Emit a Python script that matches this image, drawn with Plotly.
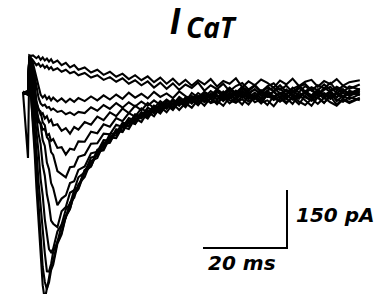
import plotly.graph_objects as go

# Time axis of the sweeps (ms, step onset at 0)
time_ms = [-1.2, 0.0, 0.3, 0.8, 1.2, 1.6, 2.0, 2.5, 3.0, 3.5,
           4.0, 4.5, 5.0, 5.5, 6.0, 7.0, 8.0, 9.0, 10.0, 11.0,
           12.0, 13.5, 15.0, 16.5, 18.0, 19.5, 21.0, 22.5, 24.0, 25.5,
           27.0, 28.5, 30.0, 31.5, 33.0, 34.5, 36.0, 37.5, 39.0, 40.5,
           42.0, 43.5, 45.0, 46.5, 48.0, 49.5, 51.0, 52.5, 54.0, 55.5,
           57.0, 58.5, 60.0, 61.5, 63.0, 64.5, 66.0, 67.5, 69.0, 70.5,
           72.0, 73.5, 75.0, 76.5, 79.0]

# Current sweeps (pA)
sweep_a = [-2, 4, 98, 96, 97, 94, 90, 95, 86, 92,
           84, 89, 81, 87, 78, 84, 72, 78, 66, 72,
           60, 66, 53, 60, 47, 55, 42, 50, 36, 46,
           33, 43, 28, 40, 24, 37, 21, 34, 19, 33,
           22, 36, 17, 31, 24, 38, 15, 30, 20, 35,
           26, 14, 32, 22, 37, 18, 29, 34, 16, 31,
           23, 36, 19, 28, 33]
sweep_b = [2, -3, 95, 90, 84, 78, 72, 76, 68, 73,
           65, 70, 62, 67, 59, 64, 55, 60, 51, 55,
           46, 52, 40, 46, 34, 41, 29, 38, 24, 33,
           20, 30, 14, 27, 11, 25, 8, 22, 13, 27,
           6, 20, 10, 24, 5, 18, 26, 9, 21, 4,
           17, 25, 8, 19, 2, 16, 23, 7, 20, 12,
           26, 6, 18, 11, 22]
sweep_c = [-1, 5, 93, 88, 76, 58, 34, 12, -4, -12,
           -6, -16, -10, -19, -12, -22, -14, -24, -15, -23,
           -13, -21, -9, -19, -6, -17, -4, -15, 1, -12,
           -2, -14, 3, -10, -1, -13, 4, -8, -16, 0,
           -11, 5, -7, -14, 2, -9, 6, -6, -15, 1,
           -10, 4, -12, -3, 7, -8, -1, -13, 3, -6,
           5, -11, 0, -7, 2]
sweep_d = [3, -4, 92, 85, 68, 42, 15, -12, -27, -33,
           -30, -38, -36, -44, -40, -49, -46, -55, -50, -57,
           -49, -52, -37, -46, -31, -41, -26, -38, -24, -35,
           -22, -33, -19, -31, -17, -28, -14, -29, -18, -32,
           -12, -26, -20, -33, -11, -24, -16, -30, -10, -25,
           -19, -34, -13, -27, -8, -22, -31, -15, -28, -12,
           -24, -33, -17, -26, -14]
sweep_e = [-2, 3, 90, 78, 55, 25, -25, -41, -56, -52,
           -66, -60, -75, -69, -84, -81, -98, -91, -105, -88,
           -95, -75, -82, -61, -70, -50, -60, -40, -52, -33,
           -45, -26, -39, -21, -34, -16, -30, -13, -27, -9,
           -24, -14, -28, -6, -19, -25, -8, -22, -11, -27,
           -4, -18, -9, -24, -14, -29, -7, -20, -12, -26,
           -5, -17, -23, -10, -19]
sweep_f = [1, -2, 92, 75, 45, 10, -50, -76, -77, -95,
           -93, -110, -106, -124, -119, -142, -140, -159, -144, -147,
           -125, -126, -100, -104, -81, -87, -65, -73, -52, -61,
           -40, -51, -33, -45, -25, -38, -20, -33, -15, -27,
           -12, -25, -6, -21, -4, -18, -1, -16, -5, -20,
           0, -13, -22, -3, -17, 2, -11, -19, -2, -14,
           1, -21, -7, -16, -3]
sweep_g = [-3, 4, 90, 70, 35, 5, -20, -43, -48, -76,
           -83, -114, -122, -153, -160, -202, -211, -218, -192, -190,
           -165, -160, -131, -130, -105, -107, -82, -88, -65, -72,
           -50, -60, -38, -49, -28, -40, -18, -30, -11, -24,
           -5, -15, 2, -9, 8, -6, 12, -3, 10, -8,
           6, 15, -2, 9, -7, 13, 0, 11, -6, 8,
           16, -1, 10, -5, 7]
sweep_h = [2, -5, 88, 60, 20, -15, -38, -67, -82, -122,
           -137, -180, -197, -233, -246, -290, -273, -265, -233, -228,
           -199, -190, -156, -152, -122, -123, -94, -99, -72, -80,
           -56, -66, -42, -53, -31, -44, -23, -37, -15, -30,
           -11, -24, -6, -19, -2, -15, 4, -12, 1, -14,
           6, -9, -1, -16, 5, -7, 2, -13, 7, -5,
           -15, 3, -10, 6, -4]
sweep_i = [-4, 2, 85, 45, 0, -40, -62, -105, -132, -187,
           -214, -262, -289, -330, -338, -347, -306, -295, -258, -251,
           -218, -205, -167, -162, -128, -127, -97, -101, -74, -80,
           -54, -63, -40, -50, -26, -38, -17, -25, -8, -16,
           0, -10, 6, -4, 12, -2, 15, 1, 9, -3,
           17, 4, 12, -5, 14, 2, 18, 6, -4, 13,
           3, 16, 7, -1, 11]
sweep_j = [0, 6, 80, 30, -20, -66, -101, -152, -222, -265,
           -326, -360, -404, -412, -403, -358, -340, -301, -287, -251,
           -243, -199, -190, -152, -148, -115, -117, -88, -93, -66,
           -75, -49, -60, -36, -50, -28, -44, -26, -38, -17,
           -33, -12, -29, -10, -27, -14, -30, -6, -24, -16,
           -31, -8, -22, -13, -28, -5, -20, -33, -11, -25,
           -9, -30, -15, -23, -12]
sweep_k = [4, -3, 70, 10, -45, -100, -146, -229, -289, -368,
           -414, -461, -462, -442, -411, -386, -342, -323, -284, -271,
           -236, -217, -176, -168, -132, -129, -97, -100, -70, -76,
           -50, -57, -33, -42, -20, -30, -10, -22, 0, -12,
           3, -7, 10, -2, 14, 0, 16, 5, 18, 2,
           13, 6, 20, 3, 11, 19, 4, 15, 7, 22,
           8, 12, 1, 17, 9]
sweep_l = [-2, 5, 45, -15, -75, -135, -200, -292, -370, -450,
           -488, -508, -478, -445, -436, -384, -361, -318, -299, -262,
           -249, -204, -190, -151, -145, -112, -110, -82, -86, -60,
           -66, -44, -52, -30, -41, -20, -33, -14, -26, -8,
           -21, -2, -16, 4, -11, 6, -8, 2, -12, 7,
           -5, 3, -10, 8, -4, -13, 5, -6, 9, -9,
           1, -11, 6, -3, 4]
sweep_m = [3, -168, 60, -20, -92, -158, -244, -336, -431, -497,
           -535, -505, -490, -458, -444, -390, -366, -320, -300, -260,
           -246, -200, -186, -147, -139, -106, -104, -77, -80, -55,
           -60, -38, -47, -27, -36, -18, -30, -12, -24, -8,
           -20, -3, -17, -6, -15, 2, -12, -4, -16, 3,
           -9, -14, 1, -11, -3, -15, 4, -8, -12, 0,
           -10, -2, -14, 3, -6]

sweeps = [sweep_a, sweep_b, sweep_c, sweep_d, sweep_e, sweep_f, sweep_g,
          sweep_h, sweep_i, sweep_j, sweep_k, sweep_l, sweep_m]

# Scale bar values
scale_ms = 20
scale_pa = 150
scale_labels = ["20 ms", "150 pA"]
title_main = "I"
title_sub = "CaT"

# Layout geometry (pixels -> data)
W, H = 390, 294
px_per_ms = 4.2
px_per_pa = 58 / 150
x0_px, base_px = 20, 85
x_range = [-x0_px / px_per_ms, (W - x0_px) / px_per_ms]
y_range = [-(H - base_px) / px_per_pa, base_px / px_per_pa]

fig = go.Figure()
for s in sweeps:
    n = min(len(s), len(time_ms))
    fig.add_trace(go.Scatter(x=time_ms[:n], y=s[:n], mode="lines",
                             line=dict(color="black", width=2.1),
                             hoverinfo="skip"))

# scale bar
bar_x0 = (195 - x0_px) / px_per_ms
bar_y0 = -(240 - base_px) / px_per_pa
fig.add_trace(go.Scatter(x=[bar_x0, bar_x0 + scale_ms, bar_x0 + scale_ms],
                         y=[bar_y0, bar_y0, bar_y0 + scale_pa],
                         mode="lines", line=dict(color="black", width=2),
                         hoverinfo="skip"))

lab_font = dict(family="DejaVu Sans", size=20, color="black")
fig.add_annotation(x=bar_x0 + scale_ms / 2, y=bar_y0, xref="x", yref="y",
                   text="<b><i>" + scale_labels[0] + "</i></b>", showarrow=False,
                   xanchor="center", yanchor="top", yshift=-1, xshift=-3,
                   font=lab_font)
fig.add_annotation(x=bar_x0 + scale_ms, y=bar_y0 + scale_pa / 2, xref="x", yref="y",
                   text="<b><i>" + scale_labels[1] + "</i></b>", showarrow=False,
                   xanchor="left", yanchor="middle", xshift=7, yshift=4,
                   font=lab_font)

# title I_CaT
fig.add_annotation(x=167 / W, y=1, xref="paper", yref="paper",
                   text="<b><i>" + title_main + "</i></b>", showarrow=False,
                   xanchor="center", yanchor="top", yshift=9,
                   font=dict(family="Liberation Sans", size=36, color="black"))
fig.add_annotation(x=203 / W, y=1, xref="paper", yref="paper",
                   text="<b><i>" + title_sub + "</i></b>", showarrow=False,
                   xanchor="center", yanchor="top", yshift=2,
                   font=dict(family="Open Sans", size=28, color="black"))

fig.update_layout(width=W, height=H, margin=dict(l=0, r=0, t=0, b=0),
                  paper_bgcolor="white", plot_bgcolor="white", showlegend=False,
                  xaxis=dict(visible=False, range=x_range, fixedrange=True),
                  yaxis=dict(visible=False, range=y_range, fixedrange=True))

fig.write_html("out.html")
